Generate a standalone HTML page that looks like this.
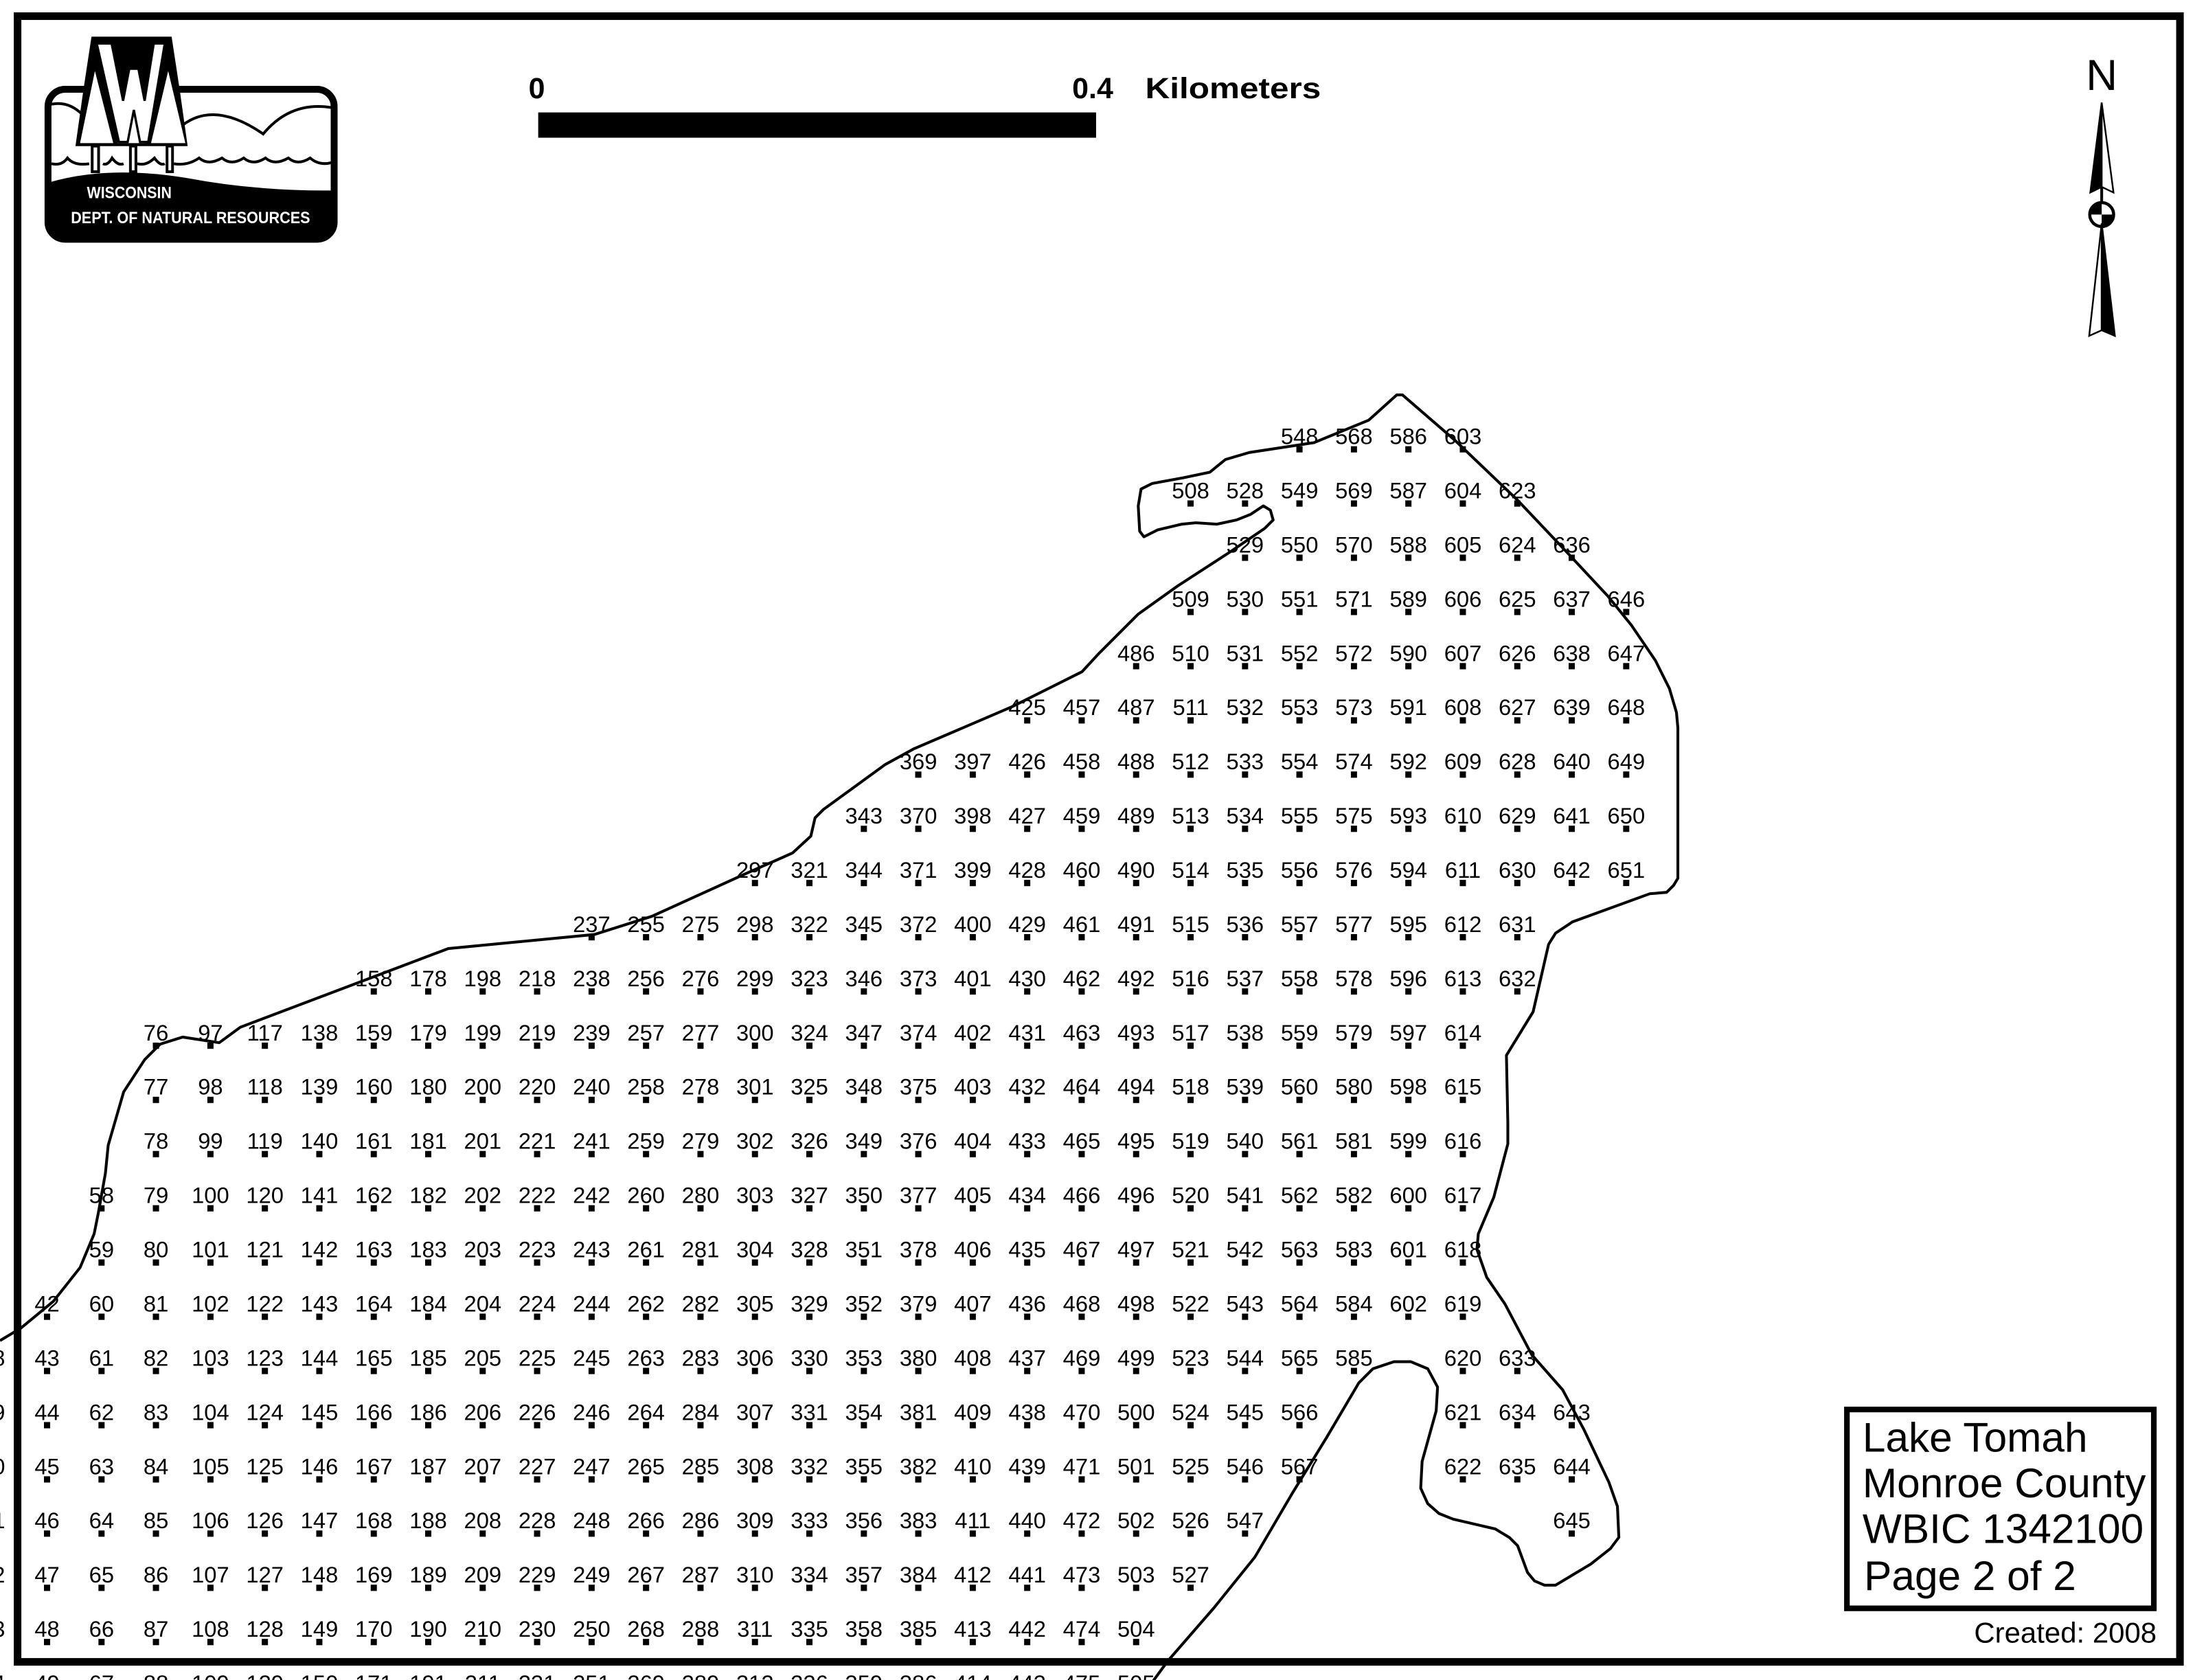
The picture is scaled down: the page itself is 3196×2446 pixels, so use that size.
<!DOCTYPE html>
<html><head><meta charset="utf-8"><style>
html,body{margin:0;padding:0;background:#fff;width:3196px;height:2446px;overflow:hidden}
svg{display:block}
.n text{font-family:"Liberation Sans",Arial,sans-serif;font-size:16px;text-anchor:middle;fill:#000}
</style></head><body>
<svg width="3196" height="2446" viewBox="0 0 1562 1195.5" preserveAspectRatio="none" xmlns="http://www.w3.org/2000/svg">
<defs>
<pattern id="dp" patternUnits="userSpaceOnUse" x="31.75" y="317.5" width="38.75" height="38.8"><rect x="0" y="0" width="4.5" height="4.5" fill="#000"/></pattern>
</defs>
<rect width="1562" height="1196" fill="#fff"/>

<!-- lake outline -->
<path d="M0,954 L15,945 L38,926 L57,902 L67,878 L70,863 L75,835 L77,815 L88,777 L103,754 L114,743 L130,738 L156,742 L171,731 L319,675 L423,665 L464,652 L530,622 L564,607 L577,595 L580,582 L586,576 L630,544 L650,533 L720,503 L770,478 L782,465 L810,437 L838,417 L875,393 L900,376 L906,370 L904,363 L899,360 L890,366 L880,370 L866,373 L851,372 L841,373 L824,377 L814,382 L811,378 L810,360 L812,348 L820,344 L842,340 L861,336 L872,327 L889,322 L935,315 L974,299 L994,281 L998,281 L1035,313 L1080,356 L1116,394 L1144,424 L1161,445 L1178,470 L1188,490 L1193,507 L1194,518 L1194,625 L1191,630 L1186,635 L1174,636 L1119,656 L1107,664 L1102,672 L1091,720 L1072,751 L1073,799 L1073,814 L1063,852 L1052,878 L1051,889 L1058,909 L1071,928 L1090,964 L1112,989 L1127,1017 L1145,1055 L1151,1072 L1152,1094 L1146,1102 L1132,1113 L1107,1128 L1099,1128 L1092,1125 L1087,1119 L1080,1100 L1074,1094 L1064,1088 L1034,1081 L1024,1077 L1016,1070 L1011,1059 L1012,1040 L1022,1004 L1023,987 L1016,974 L1004,969 L992,969 L977,974 L967,984 L944,1023 L920,1062 L893,1108 L864,1144 L831,1182 L820,1197" fill="none" stroke="#000" stroke-width="2" stroke-linejoin="round"/>

<g transform="translate(-0.5 316) scale(1 0.99433) translate(0 -316)">
<!-- dots -->
<g fill="url(#dp)">
<rect x="-7" y="977.1" width="4.5" height="237.3"/>
<rect x="31.75" y="938.3" width="4.5" height="276.1"/>
<rect x="70.5" y="860.7" width="4.5" height="353.7"/>
<rect x="109.25" y="744.3" width="4.5" height="470.1"/>
<rect x="148" y="744.3" width="4.5" height="470.1"/>
<rect x="186.75" y="744.3" width="4.5" height="470.1"/>
<rect x="225.5" y="744.3" width="4.5" height="470.1"/>
<rect x="264.25" y="705.5" width="4.5" height="508.9"/>
<rect x="303" y="705.5" width="4.5" height="508.9"/>
<rect x="341.75" y="705.5" width="4.5" height="508.9"/>
<rect x="380.5" y="705.5" width="4.5" height="508.9"/>
<rect x="419.25" y="666.7" width="4.5" height="547.7"/>
<rect x="458" y="666.7" width="4.5" height="547.7"/>
<rect x="496.75" y="666.7" width="4.5" height="547.7"/>
<rect x="535.5" y="627.9" width="4.5" height="586.5"/>
<rect x="574.25" y="627.9" width="4.5" height="586.5"/>
<rect x="613" y="589.1" width="4.5" height="625.3"/>
<rect x="651.75" y="550.3" width="4.5" height="664.1"/>
<rect x="690.5" y="550.3" width="4.5" height="664.1"/>
<rect x="729.25" y="511.5" width="4.5" height="702.9"/>
<rect x="768" y="511.5" width="4.5" height="702.9"/>
<rect x="806.75" y="472.7" width="4.5" height="741.7"/>
<rect x="845.5" y="356.3" width="4.5" height="4.5"/>
<rect x="845.5" y="433.9" width="4.5" height="702.9"/>
<rect x="884.25" y="356.3" width="4.5" height="741.7"/>
<rect x="923" y="317.5" width="4.5" height="741.7"/>
<rect x="961.75" y="317.5" width="4.5" height="664.1"/>
<rect x="1000.5" y="317.5" width="4.5" height="625.3"/>
<rect x="1039.25" y="317.5" width="4.5" height="741.7"/>
<rect x="1078" y="356.3" width="4.5" height="353.7"/>
<rect x="1078" y="977.1" width="4.5" height="82.1"/>
<rect x="1116.75" y="395.1" width="4.5" height="237.3"/>
<rect x="1116.75" y="1015.9" width="4.5" height="82.1"/>
<rect x="1155.5" y="433.9" width="4.5" height="198.5"/>
</g>

<!-- labels -->
<g class="n">
<g transform="translate(-4.75 0)"><text y="975.6">28</text><text y="1014.4">29</text><text y="1053.2">30</text><text y="1092">31</text><text y="1130.8">32</text><text y="1169.6">33</text><text y="1208.4">34</text></g>
<g transform="translate(34 0)"><text y="936.8">42</text><text y="975.6">43</text><text y="1014.4">44</text><text y="1053.2">45</text><text y="1092">46</text><text y="1130.8">47</text><text y="1169.6">48</text><text y="1208.4">49</text></g>
<g transform="translate(72.75 0)"><text y="859.2">58</text><text y="898">59</text><text y="936.8">60</text><text y="975.6">61</text><text y="1014.4">62</text><text y="1053.2">63</text><text y="1092">64</text><text y="1130.8">65</text><text y="1169.6">66</text><text y="1208.4">67</text></g>
<g transform="translate(111.5 0)"><text y="742.8">76</text><text y="781.6">77</text><text y="820.4">78</text><text y="859.2">79</text><text y="898">80</text><text y="936.8">81</text><text y="975.6">82</text><text y="1014.4">83</text><text y="1053.2">84</text><text y="1092">85</text><text y="1130.8">86</text><text y="1169.6">87</text><text y="1208.4">88</text></g>
<g transform="translate(150.25 0)"><text y="742.8">97</text><text y="781.6">98</text><text y="820.4">99</text><text y="859.2">100</text><text y="898">101</text><text y="936.8">102</text><text y="975.6">103</text><text y="1014.4">104</text><text y="1053.2">105</text><text y="1092">106</text><text y="1130.8">107</text><text y="1169.6">108</text><text y="1208.4">109</text></g>
<g transform="translate(189 0)"><text y="742.8">117</text><text y="781.6">118</text><text y="820.4">119</text><text y="859.2">120</text><text y="898">121</text><text y="936.8">122</text><text y="975.6">123</text><text y="1014.4">124</text><text y="1053.2">125</text><text y="1092">126</text><text y="1130.8">127</text><text y="1169.6">128</text><text y="1208.4">129</text></g>
<g transform="translate(227.75 0)"><text y="742.8">138</text><text y="781.6">139</text><text y="820.4">140</text><text y="859.2">141</text><text y="898">142</text><text y="936.8">143</text><text y="975.6">144</text><text y="1014.4">145</text><text y="1053.2">146</text><text y="1092">147</text><text y="1130.8">148</text><text y="1169.6">149</text><text y="1208.4">150</text></g>
<g transform="translate(266.5 0)"><text y="704">158</text><text y="742.8">159</text><text y="781.6">160</text><text y="820.4">161</text><text y="859.2">162</text><text y="898">163</text><text y="936.8">164</text><text y="975.6">165</text><text y="1014.4">166</text><text y="1053.2">167</text><text y="1092">168</text><text y="1130.8">169</text><text y="1169.6">170</text><text y="1208.4">171</text></g>
<g transform="translate(305.25 0)"><text y="704">178</text><text y="742.8">179</text><text y="781.6">180</text><text y="820.4">181</text><text y="859.2">182</text><text y="898">183</text><text y="936.8">184</text><text y="975.6">185</text><text y="1014.4">186</text><text y="1053.2">187</text><text y="1092">188</text><text y="1130.8">189</text><text y="1169.6">190</text><text y="1208.4">191</text></g>
<g transform="translate(344 0)"><text y="704">198</text><text y="742.8">199</text><text y="781.6">200</text><text y="820.4">201</text><text y="859.2">202</text><text y="898">203</text><text y="936.8">204</text><text y="975.6">205</text><text y="1014.4">206</text><text y="1053.2">207</text><text y="1092">208</text><text y="1130.8">209</text><text y="1169.6">210</text><text y="1208.4">211</text></g>
<g transform="translate(382.75 0)"><text y="704">218</text><text y="742.8">219</text><text y="781.6">220</text><text y="820.4">221</text><text y="859.2">222</text><text y="898">223</text><text y="936.8">224</text><text y="975.6">225</text><text y="1014.4">226</text><text y="1053.2">227</text><text y="1092">228</text><text y="1130.8">229</text><text y="1169.6">230</text><text y="1208.4">231</text></g>
<g transform="translate(421.5 0)"><text y="665.2">237</text><text y="704">238</text><text y="742.8">239</text><text y="781.6">240</text><text y="820.4">241</text><text y="859.2">242</text><text y="898">243</text><text y="936.8">244</text><text y="975.6">245</text><text y="1014.4">246</text><text y="1053.2">247</text><text y="1092">248</text><text y="1130.8">249</text><text y="1169.6">250</text><text y="1208.4">251</text></g>
<g transform="translate(460.25 0)"><text y="665.2">255</text><text y="704">256</text><text y="742.8">257</text><text y="781.6">258</text><text y="820.4">259</text><text y="859.2">260</text><text y="898">261</text><text y="936.8">262</text><text y="975.6">263</text><text y="1014.4">264</text><text y="1053.2">265</text><text y="1092">266</text><text y="1130.8">267</text><text y="1169.6">268</text><text y="1208.4">269</text></g>
<g transform="translate(499 0)"><text y="665.2">275</text><text y="704">276</text><text y="742.8">277</text><text y="781.6">278</text><text y="820.4">279</text><text y="859.2">280</text><text y="898">281</text><text y="936.8">282</text><text y="975.6">283</text><text y="1014.4">284</text><text y="1053.2">285</text><text y="1092">286</text><text y="1130.8">287</text><text y="1169.6">288</text><text y="1208.4">289</text></g>
<g transform="translate(537.75 0)"><text y="626.4">297</text><text y="665.2">298</text><text y="704">299</text><text y="742.8">300</text><text y="781.6">301</text><text y="820.4">302</text><text y="859.2">303</text><text y="898">304</text><text y="936.8">305</text><text y="975.6">306</text><text y="1014.4">307</text><text y="1053.2">308</text><text y="1092">309</text><text y="1130.8">310</text><text y="1169.6">311</text><text y="1208.4">312</text></g>
<g transform="translate(576.5 0)"><text y="626.4">321</text><text y="665.2">322</text><text y="704">323</text><text y="742.8">324</text><text y="781.6">325</text><text y="820.4">326</text><text y="859.2">327</text><text y="898">328</text><text y="936.8">329</text><text y="975.6">330</text><text y="1014.4">331</text><text y="1053.2">332</text><text y="1092">333</text><text y="1130.8">334</text><text y="1169.6">335</text><text y="1208.4">336</text></g>
<g transform="translate(615.25 0)"><text y="587.6">343</text><text y="626.4">344</text><text y="665.2">345</text><text y="704">346</text><text y="742.8">347</text><text y="781.6">348</text><text y="820.4">349</text><text y="859.2">350</text><text y="898">351</text><text y="936.8">352</text><text y="975.6">353</text><text y="1014.4">354</text><text y="1053.2">355</text><text y="1092">356</text><text y="1130.8">357</text><text y="1169.6">358</text><text y="1208.4">359</text></g>
<g transform="translate(654 0)"><text y="548.8">369</text><text y="587.6">370</text><text y="626.4">371</text><text y="665.2">372</text><text y="704">373</text><text y="742.8">374</text><text y="781.6">375</text><text y="820.4">376</text><text y="859.2">377</text><text y="898">378</text><text y="936.8">379</text><text y="975.6">380</text><text y="1014.4">381</text><text y="1053.2">382</text><text y="1092">383</text><text y="1130.8">384</text><text y="1169.6">385</text><text y="1208.4">386</text></g>
<g transform="translate(692.75 0)"><text y="548.8">397</text><text y="587.6">398</text><text y="626.4">399</text><text y="665.2">400</text><text y="704">401</text><text y="742.8">402</text><text y="781.6">403</text><text y="820.4">404</text><text y="859.2">405</text><text y="898">406</text><text y="936.8">407</text><text y="975.6">408</text><text y="1014.4">409</text><text y="1053.2">410</text><text y="1092">411</text><text y="1130.8">412</text><text y="1169.6">413</text><text y="1208.4">414</text></g>
<g transform="translate(731.5 0)"><text y="510">425</text><text y="548.8">426</text><text y="587.6">427</text><text y="626.4">428</text><text y="665.2">429</text><text y="704">430</text><text y="742.8">431</text><text y="781.6">432</text><text y="820.4">433</text><text y="859.2">434</text><text y="898">435</text><text y="936.8">436</text><text y="975.6">437</text><text y="1014.4">438</text><text y="1053.2">439</text><text y="1092">440</text><text y="1130.8">441</text><text y="1169.6">442</text><text y="1208.4">443</text></g>
<g transform="translate(770.25 0)"><text y="510">457</text><text y="548.8">458</text><text y="587.6">459</text><text y="626.4">460</text><text y="665.2">461</text><text y="704">462</text><text y="742.8">463</text><text y="781.6">464</text><text y="820.4">465</text><text y="859.2">466</text><text y="898">467</text><text y="936.8">468</text><text y="975.6">469</text><text y="1014.4">470</text><text y="1053.2">471</text><text y="1092">472</text><text y="1130.8">473</text><text y="1169.6">474</text><text y="1208.4">475</text></g>
<g transform="translate(809 0)"><text y="471.2">486</text><text y="510">487</text><text y="548.8">488</text><text y="587.6">489</text><text y="626.4">490</text><text y="665.2">491</text><text y="704">492</text><text y="742.8">493</text><text y="781.6">494</text><text y="820.4">495</text><text y="859.2">496</text><text y="898">497</text><text y="936.8">498</text><text y="975.6">499</text><text y="1014.4">500</text><text y="1053.2">501</text><text y="1092">502</text><text y="1130.8">503</text><text y="1169.6">504</text><text y="1208.4">505</text></g>
<g transform="translate(847.75 0)"><text y="354.8">508</text><text y="432.4">509</text><text y="471.2">510</text><text y="510">511</text><text y="548.8">512</text><text y="587.6">513</text><text y="626.4">514</text><text y="665.2">515</text><text y="704">516</text><text y="742.8">517</text><text y="781.6">518</text><text y="820.4">519</text><text y="859.2">520</text><text y="898">521</text><text y="936.8">522</text><text y="975.6">523</text><text y="1014.4">524</text><text y="1053.2">525</text><text y="1092">526</text><text y="1130.8">527</text></g>
<g transform="translate(886.5 0)"><text y="354.8">528</text><text y="393.6">529</text><text y="432.4">530</text><text y="471.2">531</text><text y="510">532</text><text y="548.8">533</text><text y="587.6">534</text><text y="626.4">535</text><text y="665.2">536</text><text y="704">537</text><text y="742.8">538</text><text y="781.6">539</text><text y="820.4">540</text><text y="859.2">541</text><text y="898">542</text><text y="936.8">543</text><text y="975.6">544</text><text y="1014.4">545</text><text y="1053.2">546</text><text y="1092">547</text></g>
<g transform="translate(925.25 0)"><text y="316">548</text><text y="354.8">549</text><text y="393.6">550</text><text y="432.4">551</text><text y="471.2">552</text><text y="510">553</text><text y="548.8">554</text><text y="587.6">555</text><text y="626.4">556</text><text y="665.2">557</text><text y="704">558</text><text y="742.8">559</text><text y="781.6">560</text><text y="820.4">561</text><text y="859.2">562</text><text y="898">563</text><text y="936.8">564</text><text y="975.6">565</text><text y="1014.4">566</text><text y="1053.2">567</text></g>
<g transform="translate(964 0)"><text y="316">568</text><text y="354.8">569</text><text y="393.6">570</text><text y="432.4">571</text><text y="471.2">572</text><text y="510">573</text><text y="548.8">574</text><text y="587.6">575</text><text y="626.4">576</text><text y="665.2">577</text><text y="704">578</text><text y="742.8">579</text><text y="781.6">580</text><text y="820.4">581</text><text y="859.2">582</text><text y="898">583</text><text y="936.8">584</text><text y="975.6">585</text></g>
<g transform="translate(1002.75 0)"><text y="316">586</text><text y="354.8">587</text><text y="393.6">588</text><text y="432.4">589</text><text y="471.2">590</text><text y="510">591</text><text y="548.8">592</text><text y="587.6">593</text><text y="626.4">594</text><text y="665.2">595</text><text y="704">596</text><text y="742.8">597</text><text y="781.6">598</text><text y="820.4">599</text><text y="859.2">600</text><text y="898">601</text><text y="936.8">602</text></g>
<g transform="translate(1041.5 0)"><text y="316">603</text><text y="354.8">604</text><text y="393.6">605</text><text y="432.4">606</text><text y="471.2">607</text><text y="510">608</text><text y="548.8">609</text><text y="587.6">610</text><text y="626.4">611</text><text y="665.2">612</text><text y="704">613</text><text y="742.8">614</text><text y="781.6">615</text><text y="820.4">616</text><text y="859.2">617</text><text y="898">618</text><text y="936.8">619</text><text y="975.6">620</text><text y="1014.4">621</text><text y="1053.2">622</text></g>
<g transform="translate(1080.25 0)"><text y="354.8">623</text><text y="393.6">624</text><text y="432.4">625</text><text y="471.2">626</text><text y="510">627</text><text y="548.8">628</text><text y="587.6">629</text><text y="626.4">630</text><text y="665.2">631</text><text y="704">632</text><text y="975.6">633</text><text y="1014.4">634</text><text y="1053.2">635</text></g>
<g transform="translate(1119 0)"><text y="393.6">636</text><text y="432.4">637</text><text y="471.2">638</text><text y="510">639</text><text y="548.8">640</text><text y="587.6">641</text><text y="626.4">642</text><text y="1014.4">643</text><text y="1053.2">644</text><text y="1092">645</text></g>
<g transform="translate(1157.75 0)"><text y="432.4">646</text><text y="471.2">647</text><text y="510">648</text><text y="548.8">649</text><text y="587.6">650</text><text y="626.4">651</text></g>
</g>
</g>

<!-- frame -->
<rect x="12.5" y="11.5" width="1538.8" height="1171.1" fill="none" stroke="#000" stroke-width="5.4"/>

<!-- scale bar -->
<g font-family="Liberation Sans,Arial,sans-serif" font-weight="bold" font-size="21">
<text x="382" y="70" text-anchor="middle">0</text>
<text x="763" y="70">0.4</text>
<text x="815" y="70" textLength="125" lengthAdjust="spacingAndGlyphs">Kilometers</text>
</g>
<rect x="383" y="80" width="397" height="18" fill="#000"/>

<!-- north arrow -->
<text x="1495.6" y="64" text-anchor="middle" font-family="Liberation Sans,Arial,sans-serif" font-size="31">N</text>
<polygon points="1495.6,73 1487.5,137 1495.6,133" fill="#000" stroke="#000" stroke-width="1.2"/>
<polygon points="1495.6,73 1504,137 1495.6,133" fill="#fff" stroke="#000" stroke-width="1.2"/>
<line x1="1495.6" y1="133" x2="1495.6" y2="160" stroke="#000" stroke-width="2"/>
<circle cx="1495.6" cy="152.7" r="8.5" fill="#fff" stroke="#000" stroke-width="2.2"/>
<path d="M1495.6,152.7 L1487.1,152.7 A8.5,8.5 0 0 1 1495.6,144.2 Z" fill="#000"/>
<path d="M1495.6,152.7 L1504.1,152.7 A8.5,8.5 0 0 1 1495.6,161.2 Z" fill="#000"/>
<polygon points="1495.6,159 1486.7,239 1495.6,235" fill="#fff" stroke="#000" stroke-width="1.2"/>
<polygon points="1495.6,159 1505,239 1495.6,235" fill="#000" stroke="#000" stroke-width="1.2"/>

<!-- legend -->
<rect x="1314.3" y="1003" width="218.4" height="141.5" fill="#fff" stroke="#000" stroke-width="4"/>
<g font-family="Liberation Sans,Arial,sans-serif" font-size="29.5">
<text x="1325.4" y="1033">Lake Tomah</text>
<text x="1325.4" y="1065.4">Monroe County</text>
<text x="1325.4" y="1098">WBIC 1342100</text>
<text x="1326.5" y="1131.4">Page 2 of 2</text>
</g>
<text x="1534.7" y="1168.8" text-anchor="end" font-family="Liberation Sans,Arial,sans-serif" font-size="20.5">Created: 2008</text>

<!-- logo -->
<g transform="translate(19.5 9.8) scale(0.1629)">
<rect x="90" y="330" width="1250" height="655" rx="75" fill="#fff" stroke="#000" stroke-width="30"/>
<path d="M90,738 Q350,660 700,718 Q1000,775 1340,772 L1340,915 Q1340,985 1270,985 L160,985 Q90,985 90,915 Z" fill="#000"/>
<path d="M105,395 Q180,380 240,440" fill="none" stroke="#000" stroke-width="12"/>
<path d="M680,485 Q820,380 1030,525 Q1150,380 1330,410" fill="none" stroke="#000" stroke-width="12"/>
<path d="M105,655 Q150,665 175,630 Q205,665 270,655 M330,655 Q350,665 370,630 Q395,665 420,655 M480,655 Q520,665 555,630 Q580,665 600,655 M640,655 Q700,665 750,630 Q790,665 850,630 Q890,665 945,630 Q985,665 1040,630 Q1080,665 1140,630 Q1180,665 1235,630 Q1275,665 1330,650" fill="none" stroke="#000" stroke-width="12"/>
<polygon points="280,100 630,100 665,330 700,578 210,578 245,330" fill="#000"/>
<polygon points="295,250 230,565 375,565" fill="#fff"/>
<polygon points="455,330 395,565 515,565" fill="#fff"/>
<polygon points="615,250 540,565 690,565" fill="#fff"/>
<polygon points="303,130 368,130 418,380 445,240 485,240 512,380 552,130 600,130 528,560 492,560 465,420 438,560 400,560" fill="#fff" stroke="#000" stroke-width="10"/>
<rect x="283" y="578" width="28" height="112" fill="#fff" stroke="#000" stroke-width="12"/>
<rect x="450" y="578" width="24" height="112" fill="#fff" stroke="#000" stroke-width="12"/>
<rect x="610" y="578" width="24" height="112" fill="#fff" stroke="#000" stroke-width="12"/>
<text x="260" y="805" fill="#fff" font-family="Liberation Sans,Arial,sans-serif" font-weight="bold" font-size="72" textLength="370" lengthAdjust="spacingAndGlyphs">WISCONSIN</text>
<text x="190" y="915" fill="#fff" font-family="Liberation Sans,Arial,sans-serif" font-weight="bold" font-size="72" textLength="1045" lengthAdjust="spacingAndGlyphs">DEPT. OF NATURAL RESOURCES</text>
</g>
</svg>
</body></html>
